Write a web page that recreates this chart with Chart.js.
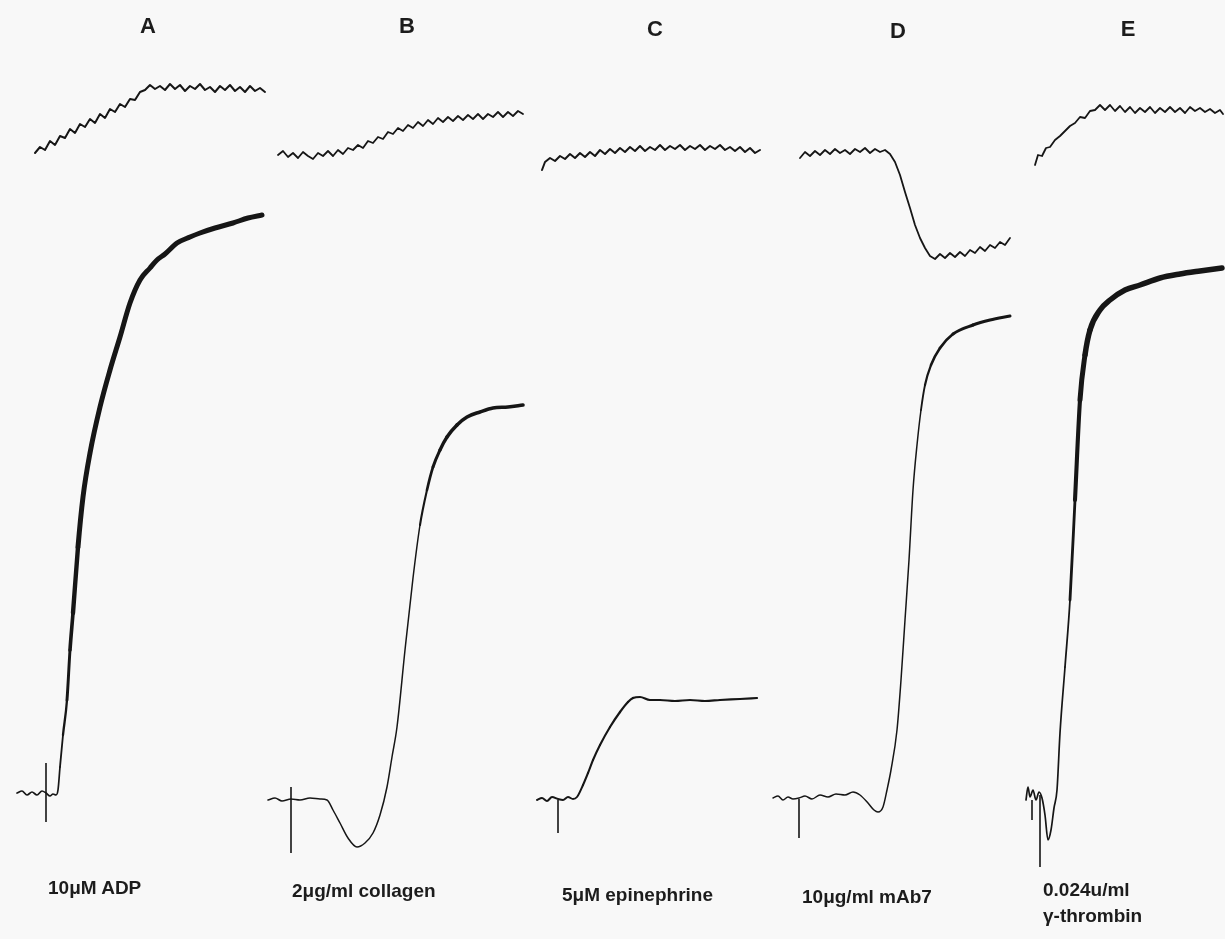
<!DOCTYPE html>
<html><head><meta charset="utf-8">
<script src="https://cdn.jsdelivr.net/npm/chart.js@4"></script>
<style>
html,body{margin:0;padding:0;background:#f8f8f8;width:1225px;height:939px;overflow:hidden;font-family:"Liberation Sans",Arial,sans-serif;}
.panel{position:absolute;top:0;}
.letter{position:absolute;font-weight:bold;font-size:22px;color:#1c1c1c;transform:translateX(-50%);line-height:24px;}
.agonist{position:absolute;font-weight:bold;font-size:19px;color:#1c1c1c;white-space:nowrap;line-height:24px;}
</style></head><body>
<script>
// ---- DATA (time in s, signal in arbitrary units) ----
const panelLetters = ['A','B','C','D','E'];
const agonistLabels = [['10μM ADP'],['2μg/ml collagen'],['5μM epinephrine'],['10μg/ml mAb7'],['0.024u/ml','γ-thrombin']];

// Panel A
const aUpT = [17.5,20,22.5,25,27.5,30,32.5,35,37.5,40,42.5,45,47.5,50,52.5,55,57.5,60,62.5,65,67.5,70,72.5,75,77.5,80,82.5,85,87.5,90,92.5,95,97.5,100,102.5,105,107.5,110,112.5,115,117.5,120,122.5,125,127.5,130,132.5];
const aUpV = [78.6,79.2,78.9,79.8,79.4,80.3,80.1,81.0,80.6,81.5,81.2,82.0,81.6,82.5,82.1,83.0,82.7,83.5,83.2,84.0,83.9,84.7,84.9,85.4,85.0,85.3,84.9,85.5,85.0,85.4,84.8,85.3,85.0,85.5,84.9,85.2,84.7,85.3,84.9,85.4,84.8,85.2,84.7,85.3,84.8,85.1,84.7];
const aLoT = [8.5,11,13.5,16,18.5,21,23,25,26.5,28,29,30,31.5,33.5,35,36.5,39,41.5,45,50,55,60,65,70,75,78.5,82.5,88.5,95,100,107.5,116.5,124,131];
const aLoV = [14.6,14.8,14.4,14.7,14.4,14.8,14.6,14.3,14.5,14.4,14.9,17.2,20.4,23.9,28.9,32.6,39.2,44.2,48.6,53.2,56.9,60.2,63.6,65.9,67.1,67.9,68.5,69.6,70.2,70.6,71.1,71.6,72.1,72.4];
const aTick = {t:23, from:17.6, to:11.7};

// Panel B
const bUpT = [6.5,9,11.5,14,16.5,19,21.5,24,26.5,29,31.5,34,36.5,39,41.5,44,46.5,49,51.5,54,56.5,59,61.5,64,66.5,69,71.5,74,76.5,79,81.5,84,86.5,89,91.5,94,96.5,99,101.5,104,106.5,109,111.5,114,116.5,119,121.5,124,126.5,129];
const bUpV = [78.4,78.8,78.2,78.6,78.1,78.7,78.3,78.0,78.6,78.3,78.8,78.3,78.9,78.5,79.1,78.9,79.4,79.1,79.8,79.6,80.2,80.0,80.7,80.5,81.1,80.8,81.4,81.1,81.7,81.3,81.9,81.5,82.1,81.7,82.2,81.8,82.3,81.9,82.4,82.0,82.5,82.0,82.5,82.2,82.7,82.2,82.7,82.3,82.8,82.5];
const bLoT = [1.5,5,8.5,13,17.5,22.5,27.5,31,34,37.5,41.5,46,50,54,57.5,61,63.5,66,70,74,77.5,81,84,87.5,91,96,101,107.5,114,121.5,129];
const bLoV = [13.9,14.1,13.8,14.0,13.9,14.1,14.0,13.9,12.9,11.6,10.1,9.2,9.6,10.6,12.4,15.2,18.2,21.2,28.9,36.1,41.4,44.9,47.2,48.9,50.2,51.4,52.2,52.7,53.1,53.2,53.4];
const bTick = {t:13, from:15.2, to:8.6};

// Panel C
const cUpT = [6,7.5,10,12.5,15,17.5,20,22.5,25,27.5,30,32.5,35,37.5,40,42.5,45,47.5,50,52.5,55,57.5,60,62.5,65,67.5,70,72.5,75,77.5,80,82.5,85,87.5,90,92.5,95,97.5,100,102.5,105,107.5,110,112.5,115];
const cUpV = [76.9,77.7,78.1,77.8,78.3,78.0,78.5,78.1,78.6,78.2,78.7,78.3,78.9,78.5,79.0,78.6,79.1,78.7,79.2,78.8,79.3,78.8,79.2,78.9,79.4,78.9,79.3,79.0,79.4,78.9,79.3,79.0,79.4,78.9,79.3,79.0,79.4,78.9,79.2,78.8,79.2,78.7,79.1,78.6,78.9];
const cLoT = [3.5,6,8.5,11,14,16.5,19,21.5,23.5,26.5,29,31.5,35,40,45,49,51.5,55,60,65,72.5,80,87.5,95,105,113.5];
const cLoV = [13.9,14.1,13.8,14.2,14.0,13.9,14.2,14.0,14.2,15.4,16.6,17.9,19.4,21.2,22.7,23.7,24.1,24.2,23.9,23.9,23.8,23.9,23.8,23.9,24.0,24.1];
const cTick = {t:14, from:13.9, to:10.6};

// Panel D
const dUpT = [17.5,20,22.5,25,27.5,30,32.5,35,37.5,40,42.5,45,47.5,50,52.5,55,57.5,60,62.5,65,67.5,70,72.5,75,77.5,80,82.5,85,87.5,90,92.5,95,97.5,100,102.5,105,107.5,110,112.5,115,117.5,120,122.5];
const dUpV = [78.1,78.7,78.3,78.8,78.4,78.9,78.5,79.0,78.6,78.9,78.5,79.0,78.7,79.1,78.6,79.0,78.7,78.9,78.5,77.7,76.4,74.7,73.1,71.4,70.1,69.1,68.3,68.0,68.5,68.1,68.6,68.2,68.7,68.3,68.9,68.6,69.2,68.8,69.4,69.1,69.7,69.4,70.1];
const dLoT = [4,6.5,9,11.5,14,17,20,23.5,27.5,31.5,35.5,40,44,47.5,51.5,54.5,56.5,59,61,63,66,68,70,72,74,76,78,80,83,87.5,94,104,112.5,122.5];
const dLoV = [14.1,14.3,13.9,14.2,14.0,14.1,14.3,14.0,14.4,14.2,14.5,14.4,14.7,14.4,13.6,12.9,12.7,13.2,14.9,16.9,20.9,25.9,31.9,37.9,44.9,49.4,52.9,55.4,57.4,59.1,60.5,61.4,61.9,62.3];
const dTick = {t:17, from:14.0, to:10.1};

// Panel E
const eUpT = [7.5,9,11,13,15,17.5,20,22.5,25,27.5,30,32.5,35,37.5,40,42.5,45,47.5,50,52.5,55,57.5,60,62.5,65,67.5,70,72.5,75,77.5,80,82.5,85,87.5,90,92.5,95,97.5,100,101.5];
const eUpV = [77.4,78.4,78.3,79.1,79.2,79.9,80.3,80.8,81.3,81.6,82.2,82.1,82.8,82.9,83.4,82.9,83.4,82.8,83.3,82.7,83.2,82.6,83.1,82.7,83.2,82.6,83.1,82.7,83.2,82.7,83.1,82.6,83.2,82.8,83.1,82.7,83.0,82.6,82.9,82.5];
const eLoT = [3,4,5,6.5,8,9.5,11,12.5,14,15.5,17,18.5,20,22.5,25,27.5,30,32.5,35,40,45,52.5,60,70,80,90,101];
const eLoV = [13.9,15.2,14.2,14.9,13.9,14.7,14.1,12.4,9.9,10.9,13.1,14.9,20.6,27.2,33.9,43.9,53.9,58.4,60.9,62.9,63.9,64.9,65.4,66.1,66.5,66.8,67.1];
const eTick = {t:10, from:14.4, to:7.2};
const eTick2 = {t:6, from:13.9, to:11.9};

// ---- LAYOUT / STYLE ----
const Y_MAX = 93.9;
const layout = [
  {left:0,   width:270, letterX:148, letterY:14, labX:48,   labY:876, upW:2.0, loThin:1.7, loThick:5.0, rampFrom:18, rampTo:40},
  {left:265, width:270, letterX:407, letterY:14, labX:292,  labY:879, upW:1.8, loThin:1.5, loThick:3.6, rampFrom:40, rampTo:51},
  {left:530, width:240, letterX:655, letterY:17, labX:562,  labY:883, upW:2.0, loThin:2.0, loThick:2.2, rampFrom:15, rampTo:24},
  {left:765, width:260, letterX:898, letterY:19, labX:802,  labY:885, upW:1.8, loThin:1.5, loThick:3.0, rampFrom:52, rampTo:61},
  {left:1020,width:205, letterX:1128,letterY:17, labX:1043, labY:878, upW:1.8, loThin:1.7, loThick:5.5, rampFrom:30, rampTo:60}
];
const series = [
  {up:[aUpT,aUpV], lo:[aLoT,aLoV], ticks:[aTick]},
  {up:[bUpT,bUpV], lo:[bLoT,bLoV], ticks:[bTick]},
  {up:[cUpT,cUpV], lo:[cLoT,cLoV], ticks:[cTick]},
  {up:[dUpT,dUpV], lo:[dLoT,dLoV], ticks:[dTick]},
  {up:[eUpT,eUpV], lo:[eLoT,eLoV], ticks:[eTick,eTick2]}
];
const INK = '#161616';
const pts = (t,v) => t.map((x,i)=>({x:x,y:v[i]}));

series.forEach((s,i)=>{
  const L = layout[i];
  const div = document.createElement('div');
  div.className='panel';
  div.style.left = L.left+'px';
  div.style.width = L.width+'px';
  div.style.height = '939px';
  const cv = document.createElement('canvas');
  cv.width = L.width; cv.height = 939;
  div.appendChild(cv);
  document.body.appendChild(div);

  const widthAt = c => {
    const y = (c.p0.parsed.y + c.p1.parsed.y)/2;
    const f = Math.max(0, Math.min(1, (y - L.rampFrom)/(L.rampTo - L.rampFrom)));
    return L.loThin + (L.loThick - L.loThin)*f;
  };

  const datasets = [
    {data:pts(s.up[0],s.up[1]), borderColor:INK, borderWidth:L.upW, tension:0, pointRadius:0, clip:false, borderJoinStyle:'round', borderCapStyle:'round'},
    {data:pts(s.lo[0],s.lo[1]), borderColor:INK, borderWidth:L.loThin, cubicInterpolationMode:'monotone', pointRadius:0, clip:false, borderJoinStyle:'round', borderCapStyle:'round',
      segment:{borderWidth: widthAt}}
  ];
  s.ticks.forEach(tk=>{
    datasets.push({data:[{x:tk.t,y:tk.from},{x:tk.t,y:tk.to}], borderColor:INK, borderWidth:1.6, pointRadius:0, clip:false});
  });

  new Chart(cv, {
    type:'scatter',
    data:{datasets},
    options:{
      responsive:false, animation:false, showLine:true,
      layout:{padding:0},
      plugins:{legend:{display:false}, tooltip:{enabled:false}},
      scales:{
        x:{type:'linear', display:false, min:0, max:L.width/2},
        y:{type:'linear', display:false, min:0, max:Y_MAX}
      }
    }
  });

  const le = document.createElement('div');
  le.className='letter';
  le.style.left = L.letterX+'px';
  le.style.top = L.letterY+'px';
  le.textContent = panelLetters[i];
  document.body.appendChild(le);

  agonistLabels[i].forEach((txt,j)=>{
    const a = document.createElement('div');
    a.className='agonist';
    a.style.left = L.labX+'px';
    a.style.top = (L.labY + j*26)+'px';
    a.textContent = txt;
    document.body.appendChild(a);
  });
});
</script>
</body></html>
